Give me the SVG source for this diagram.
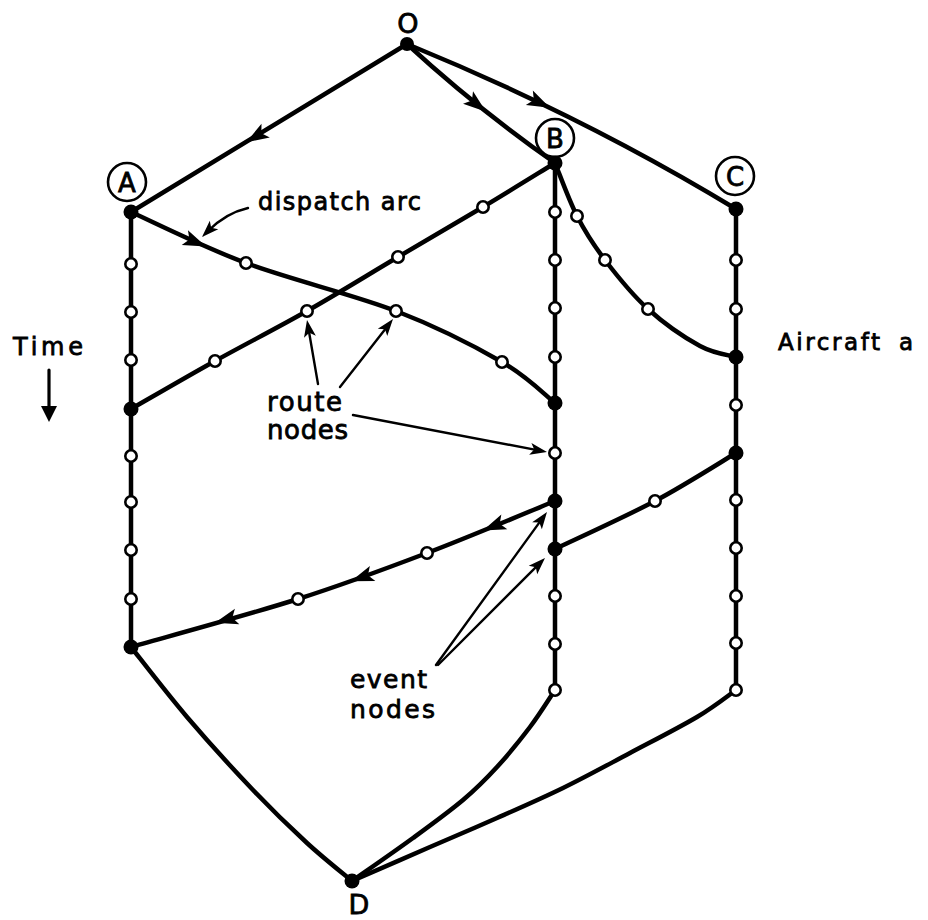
<svg xmlns="http://www.w3.org/2000/svg" width="928" height="920" viewBox="0 0 928 920">
<style>
.ln{fill:none;stroke:#000;stroke-width:4.5;stroke-linecap:round;stroke-linejoin:round}
.th{fill:none;stroke:#000;stroke-width:2.4;stroke-linecap:round}
.ev{fill:#000}
.rt{fill:#fff;stroke:#000;stroke-width:2.6}
.lc{fill:#fff;stroke:#000;stroke-width:2.6}
text{font-family:"DejaVu Sans","Liberation Sans",sans-serif;fill:#000;stroke:#000;stroke-width:0.8}
.big{font-size:27px}
.cl{font-size:26px;text-anchor:middle}
</style>
<defs>
<path id="ah" d="M0,0 L-23,-8 L-18,0 L-23,8 Z" fill="#000"/>
<path id="as" d="M0,0 L-17,-6 L-13,0 L-17,6 Z" fill="#000"/>
</defs>
<rect width="928" height="920" fill="#fff"/>

<g id="connectors">
  <!-- time-line columns -->
  <path class="ln" d="M131,212 V647"/>
  <path class="ln" d="M555,163 V690"/>
  <path class="ln" d="M736,209 V690"/>
  <!-- origin arcs -->
  <path class="ln" d="M407,44 L131,212"/>
  <path class="ln" d="M407,44 Q476,107.5 555,163"/>
  <path class="ln" d="M407,44 Q583,116 736,209"/>
  <!-- A to B dispatch arc -->
  <path class="ln" d="M131,212 C150.2,220.5 201.8,246.5 246,263 C290.2,279.5 353.3,294.5 396,311 C438.7,327.5 475.5,346.7 502,362 C528.5,377.3 546.2,396.2 555,403"/>
  <!-- B to A -->
  <path class="ln" d="M555,163 C543,170.3 509.2,191.3 483,207 C456.8,222.7 427.3,239.7 398,257 C368.7,274.3 337.5,293.7 307,311 C276.5,328.3 244.3,344.7 215,361 C185.7,377.3 145,401 131,409"/>
  <!-- B to C -->
  <path class="ln" d="M555,163 C558.7,171.8 568.7,199.8 577,216 C585.3,232.2 593.2,244.5 605,260 C616.8,275.5 632.2,294.7 648,309 C663.8,323.3 685.3,338 700,346 C714.7,354 730,355.2 736,357"/>
  <!-- C to B -->
  <path class="ln" d="M736,453 C722.5,461 685.2,485 655,501 C624.8,517 571.7,541 555,549"/>
  <!-- B to A return -->
  <path class="ln" d="M555,501 C533.7,509.7 469.8,536.7 427,553 C384.2,569.3 347.3,583.3 298,599 C248.7,614.7 158.8,639 131,647"/>
  <!-- to D -->
  <path class="ln" d="M131,647 C140.3,658.7 166.7,693.2 187,717 C207.3,740.8 233,769 253,790 C273,811 290.5,827.8 307,843 C323.5,858.2 344.5,874.7 352,881"/>
  <path class="ln" d="M555,690 C550.8,696.2 539.7,714.2 530,727 C520.3,739.8 508.2,754.8 497,767 C485.8,779.2 477,788.2 463,800 C449,811.8 431.5,824.5 413,838 C394.5,851.5 362.2,873.8 352,881"/>
  <path class="ln" d="M736,690 C729.5,694.5 714.7,706.5 697,717 C679.3,727.5 652.3,741.2 630,753 C607.7,764.8 585.2,777.2 563,788 C540.8,798.8 519.2,808.2 497,818 C474.8,827.8 454.2,836.5 430,847 C405.8,857.5 365,875.3 352,881"/>
  <!-- direction arrowheads -->
  <use href="#ah" transform="translate(246,142.5) rotate(148.7)"/>
  <use href="#ah" transform="translate(486,111.8) rotate(38.6)"/>
  <use href="#ah" transform="translate(550,107.8) rotate(26)"/>
  <use href="#ah" transform="translate(206,246.5) rotate(23)"/>
  <use href="#ah" transform="translate(483,530.5) rotate(158)"/>
  <use href="#ah" transform="translate(351,581.3) rotate(160)"/>
  <use href="#ah" transform="translate(215,622.8) rotate(164)"/>
  <!-- annotation pointers -->
  <path class="th" d="M248,208 Q226,213 208,231"/>
  <use href="#as" transform="translate(202,237) rotate(135)"/>
  <path class="th" d="M318,384 L308.7,330"/>
  <use href="#as" transform="translate(307,320) rotate(-100)"/>
  <path class="th" d="M340,387 L386.9,327"/>
  <use href="#as" transform="translate(393,319) rotate(-52)"/>
  <path class="th" d="M353,415 L537.2,450.1"/>
  <use href="#as" transform="translate(547,452) rotate(10.8)"/>
  <path class="th" d="M436,665 L541.1,520.1"/>
  <use href="#as" transform="translate(547,512) rotate(-54)"/>
  <path class="th" d="M438,665 L537.9,565.1"/>
  <use href="#as" transform="translate(545,558) rotate(-45)"/>
  <!-- time arrow -->
  <path class="ln" style="stroke-width:3.2" d="M49,370 V410"/>
  <path d="M41,406 L57,406 L49,422 Z" fill="#000"/>
</g>

<g id="node-O"><circle class="ev" cx="407" cy="44" r="7"/><text class="big" x="408" y="33" text-anchor="middle">O</text></g>
<g id="node-A"><circle class="lc" cx="127" cy="182" r="19"/><text class="cl" x="127" y="191.5">A</text><circle class="ev" cx="131" cy="212" r="7.5"/></g>
<g id="node-B"><circle class="lc" cx="555" cy="138" r="19"/><text class="cl" x="555" y="147.5">B</text><circle class="ev" cx="555" cy="163" r="7.5"/></g>
<g id="node-C"><circle class="lc" cx="735" cy="176" r="19"/><text class="cl" x="735" y="185.5">C</text><circle class="ev" cx="736" cy="209" r="7.5"/></g>
<g id="node-D"><circle class="ev" cx="352" cy="881" r="7.5"/><text class="big" x="359" y="914" text-anchor="middle">D</text></g>

<g id="event-nodes">
  <g id="ev-A2"><circle class="ev" cx="131" cy="409" r="7.5"/></g>
  <g id="ev-A3"><circle class="ev" cx="131" cy="647" r="7.5"/></g>
  <g id="ev-B2"><circle class="ev" cx="555" cy="403" r="7.5"/></g>
  <g id="ev-B3"><circle class="ev" cx="555" cy="501" r="7.5"/></g>
  <g id="ev-B4"><circle class="ev" cx="555" cy="549" r="7.5"/></g>
  <g id="ev-C2"><circle class="ev" cx="736" cy="357" r="7.5"/></g>
  <g id="ev-C3"><circle class="ev" cx="736" cy="453" r="7.5"/></g>
</g>

<g id="route-nodes">
  <g id="rA1"><circle class="rt" cx="131" cy="264" r="5.7"/></g>
  <g id="rA2"><circle class="rt" cx="131" cy="312" r="5.7"/></g>
  <g id="rA3"><circle class="rt" cx="131" cy="360" r="5.7"/></g>
  <g id="rA4"><circle class="rt" cx="131" cy="456" r="5.7"/></g>
  <g id="rA5"><circle class="rt" cx="131" cy="502" r="5.7"/></g>
  <g id="rA6"><circle class="rt" cx="131" cy="550" r="5.7"/></g>
  <g id="rA7"><circle class="rt" cx="131" cy="599" r="5.7"/></g>
  <g id="rB1"><circle class="rt" cx="555" cy="212" r="5.7"/></g>
  <g id="rB2"><circle class="rt" cx="555" cy="260" r="5.7"/></g>
  <g id="rB3"><circle class="rt" cx="555" cy="308" r="5.7"/></g>
  <g id="rB4"><circle class="rt" cx="555" cy="357" r="5.7"/></g>
  <g id="rB5"><circle class="rt" cx="555" cy="453" r="5.7"/></g>
  <g id="rB6"><circle class="rt" cx="555" cy="596" r="5.7"/></g>
  <g id="rB7"><circle class="rt" cx="555" cy="644" r="5.7"/></g>
  <g id="rB8"><circle class="rt" cx="555" cy="690" r="5.7"/></g>
  <g id="rC1"><circle class="rt" cx="736" cy="260" r="5.7"/></g>
  <g id="rC2"><circle class="rt" cx="736" cy="309" r="5.7"/></g>
  <g id="rC3"><circle class="rt" cx="736" cy="405" r="5.7"/></g>
  <g id="rC4"><circle class="rt" cx="736" cy="500" r="5.7"/></g>
  <g id="rC5"><circle class="rt" cx="736" cy="548" r="5.7"/></g>
  <g id="rC6"><circle class="rt" cx="736" cy="596" r="5.7"/></g>
  <g id="rC7"><circle class="rt" cx="736" cy="643" r="5.7"/></g>
  <g id="rC8"><circle class="rt" cx="736" cy="690" r="5.7"/></g>
  <g id="rAB1"><circle class="rt" cx="246" cy="263" r="5.7"/></g>
  <g id="rAB2"><circle class="rt" cx="396" cy="311" r="5.7"/></g>
  <g id="rAB3"><circle class="rt" cx="502" cy="362" r="5.7"/></g>
  <g id="rBA1"><circle class="rt" cx="483" cy="207" r="5.7"/></g>
  <g id="rBA2"><circle class="rt" cx="398" cy="257" r="5.7"/></g>
  <g id="rBA3"><circle class="rt" cx="307" cy="311" r="5.7"/></g>
  <g id="rBA4"><circle class="rt" cx="215" cy="361" r="5.7"/></g>
  <g id="rBC1"><circle class="rt" cx="577" cy="216" r="5.7"/></g>
  <g id="rBC2"><circle class="rt" cx="605" cy="260" r="5.7"/></g>
  <g id="rBC3"><circle class="rt" cx="648" cy="309" r="5.7"/></g>
  <g id="rCB1"><circle class="rt" cx="655" cy="501" r="5.7"/></g>
  <g id="rBR1"><circle class="rt" cx="427" cy="553" r="5.7"/></g>
  <g id="rBR2"><circle class="rt" cx="298" cy="599" r="5.7"/></g>
</g>

<g id="labels">
  <text x="258" y="210" font-size="24" textLength="163" lengthAdjust="spacing">dispatch arc</text>
  <text x="267" y="411" font-size="26" textLength="75" lengthAdjust="spacing">route</text>
  <text x="267" y="439" font-size="26" textLength="81" lengthAdjust="spacing">nodes</text>
  <text x="350" y="688" font-size="25" textLength="77" lengthAdjust="spacing">event</text>
  <text x="350" y="718" font-size="25" textLength="85" lengthAdjust="spacing">nodes</text>
  <text x="13" y="355" font-size="24" textLength="70" lengthAdjust="spacing">Time</text>
  <text x="778" y="350" font-size="23"><tspan textLength="102" lengthAdjust="spacing">Aircraft</tspan> <tspan x="899">a</tspan></text>
</g>
</svg>
